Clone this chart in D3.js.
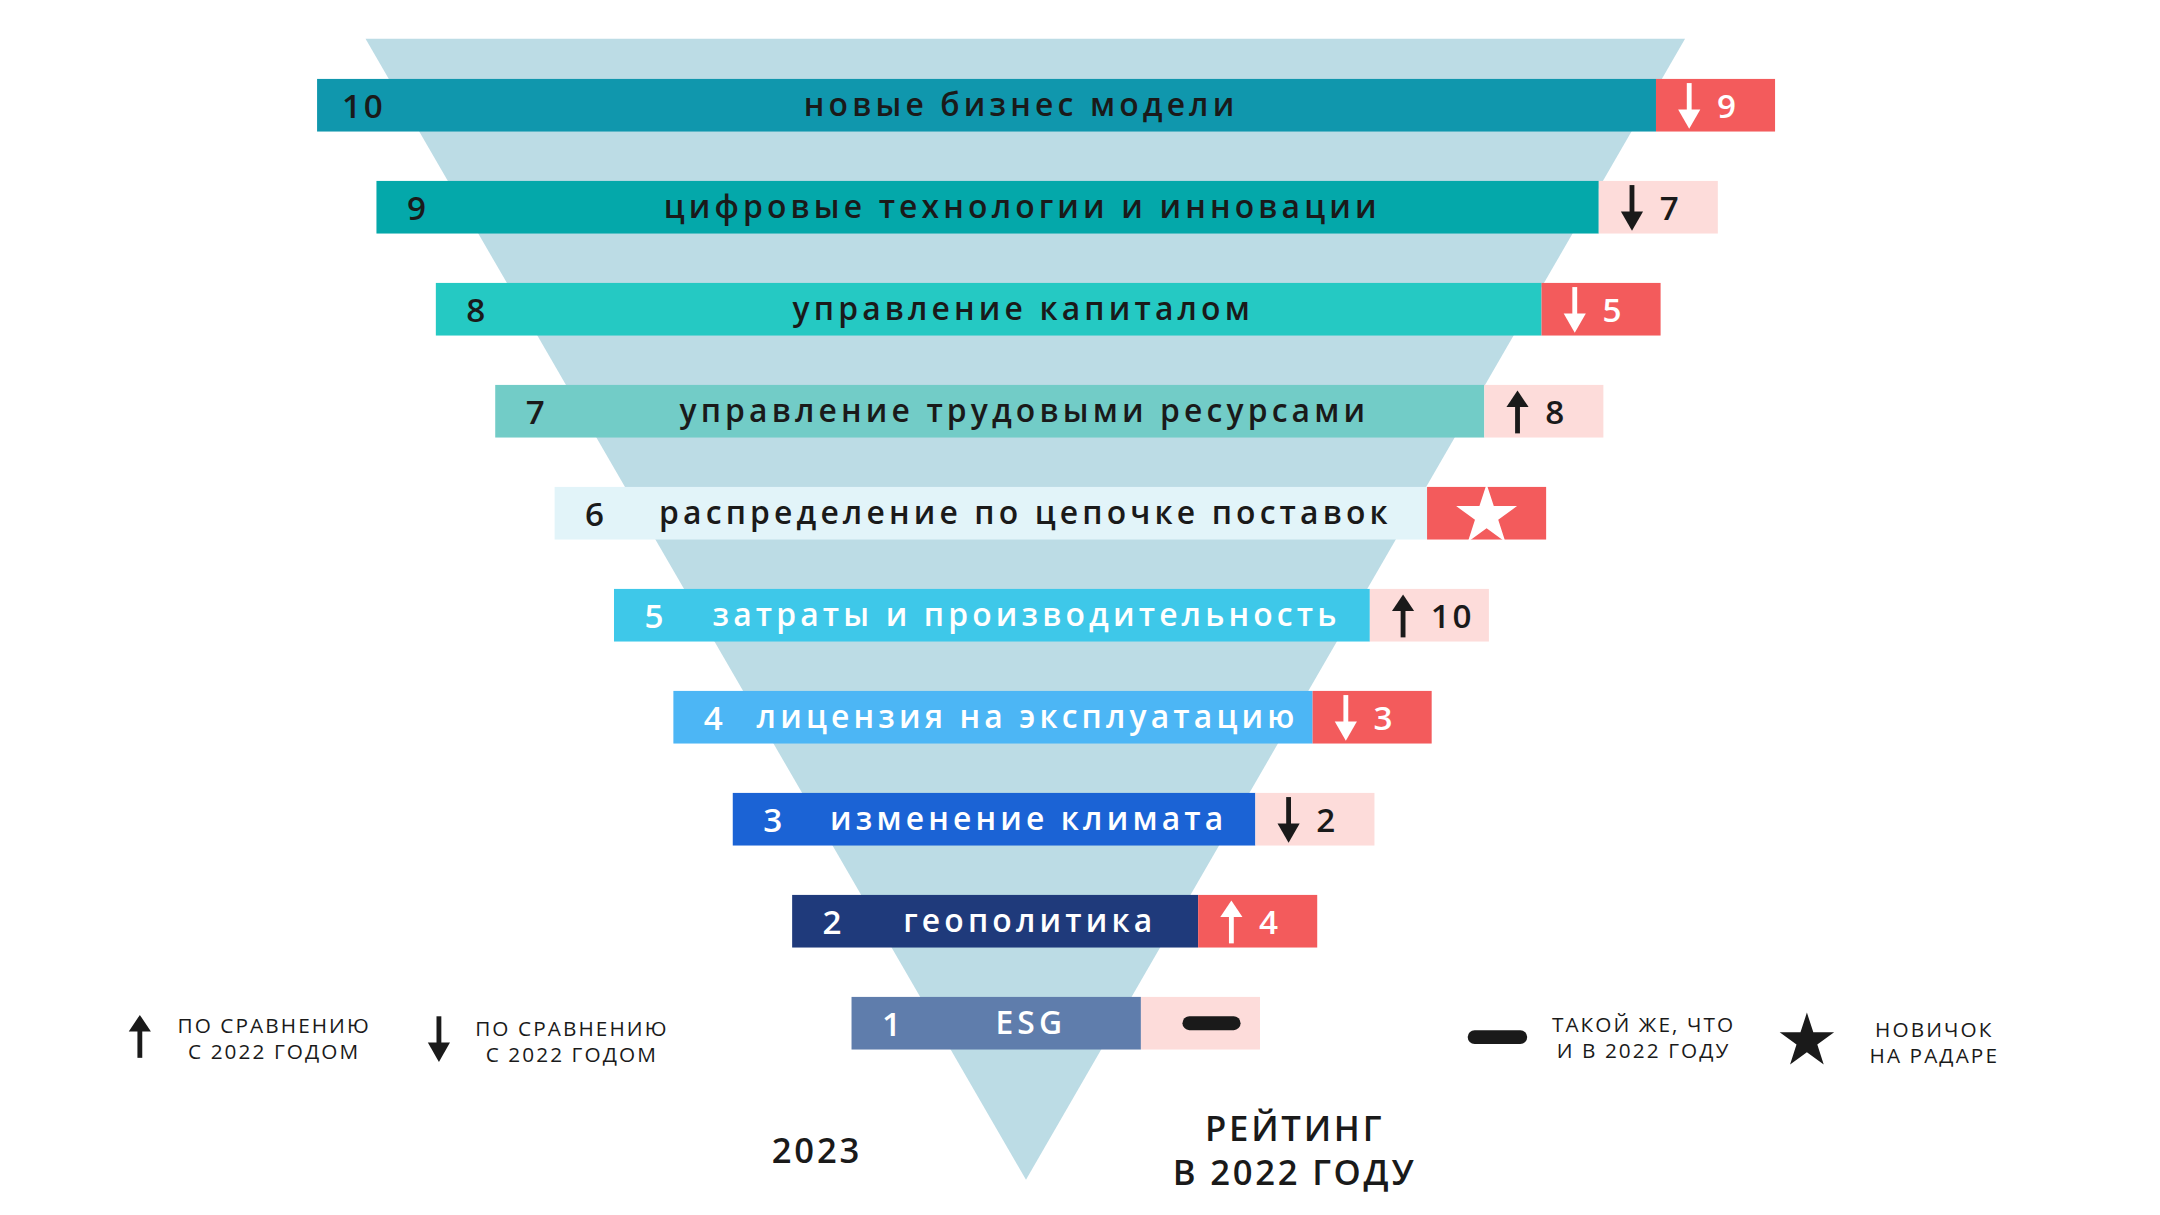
<!DOCTYPE html><html><head><meta charset="utf-8"><script src="https://cdn.jsdelivr.net/npm/d3@7"></script>
<style>body{margin:0;background:#fff}svg{display:block}text{font-family:"Open Sans",sans-serif}</style></head><body>
<svg id="c" width="2160" height="1215"></svg>
<script>
const ranks2023 = [10,9,8,7,6,5,4,3,2,1];
const labels = ["новые бизнес модели","цифровые технологии и инновации","управление капиталом","управление трудовыми ресурсами","распределение по цепочке поставок","затраты и производительность","лицензия на эксплуатацию","изменение климата","геополитика","ESG"];
const ranks2022 = ["9","7","5","8","new","10","3","2","4","same"];
const change = ["down","down","down","up","new","up","down","down","up","same"];
const barColors = ["#1097ad","#04a8aa","#25c9c3","#72ccc7","#e2f4f9","#3ec8e9","#4cb6f5","#1b63d5","#1f3a7b","#5f7dac"];
const textColors = ["#1a1a1a","#1a1a1a","#1a1a1a","#1a1a1a","#1a1a1a","#ffffff","#ffffff","#ffffff","#ffffff","#ffffff"];
const badgeColors = ["#f35b5c","#fddcda","#f35b5c","#fddcda","#f35b5c","#fddcda","#f35b5c","#fddcda","#f35b5c","#fddcda"];

const svg = d3.select("#c");
const g = svg.append("g").attr("transform","scale(1.3846)");
const y = d3.scaleLinear().domain([10,1]).range([76,739]);
const xl = d3.scaleLinear().domain([1,10]).range([615,229]);
const xr = d3.scaleLinear().domain([1,10]).range([824,1196]);
const bw = 86, bh = 38;

g.append("path").attr("d","M264,28L1217,28L741,852Z").attr("fill","#bcdce5");

const rows = g.selectAll("g.row").data(ranks2023).join("g");
rows.append("rect").attr("x",r=>xl(r)).attr("y",r=>y(r)-bh/2).attr("width",r=>xr(r)-xl(r)).attr("height",bh).attr("fill",(r,i)=>barColors[i]);
rows.append("rect").attr("x",r=>xr(r)).attr("y",r=>y(r)-bh/2).attr("width",bw).attr("height",bh).attr("fill",(r,i)=>badgeColors[i]);
rows.append("text").attr("x",r=>xl(r)+(r==10?18:22)).attr("y",r=>y(r)+9).attr("font-size",24).attr("font-weight",600).attr("letter-spacing",2)
  .attr("fill",(r,i)=>textColors[i]).text(r=>r);
rows.append("text").attr("x",r=>(xl(r)+50+xr(r))/2).attr("y",r=>y(r)+8).attr("text-anchor","middle").attr("font-size",23).attr("font-weight",600).attr("letter-spacing",3)
  .attr("fill",(r,i)=>textColors[i]).text((r,i)=>labels[i]);

function arrow(sel,x,yc,dir,col){
  const d = dir=="up"?-1:1, len=32;
  sel.append("line").attr("x1",x).attr("x2",x).attr("y1",yc-d*len/2).attr("y2",yc+d*(len/2-8)).attr("stroke",col).attr("stroke-width",3.5);
  sel.append("path").attr("d",`M${x-8},${yc+d*(len/2-13)}L${x+8},${yc+d*(len/2-13)}L${x},${yc+d*len/2+1}Z`).attr("fill",col);
}
const star = d3.symbol().type(d3.symbolStar);
rows.each(function(r,i){
  const s=d3.select(this), x0=xr(r), yc=y(r);
  const light = badgeColors[i]=="#fddcda"; const col = light?"#1a1a1a":"#ffffff";
  if(change[i]=="up"||change[i]=="down"){
    arrow(s,x0+24,yc,change[i],col);
    s.append("text").attr("x",x0+44).attr("y",yc+9).attr("font-size",24).attr("font-weight",600).attr("letter-spacing",2).attr("fill",col).text(ranks2022[i]);
  } else if(change[i]=="new"){
    s.append("path").attr("d",star.size(600)()).attr("transform",`translate(${x0+bw/2},${yc+2})`).attr("fill","#fff");
  } else {
    s.append("rect").attr("x",x0+30).attr("y",yc-5).attr("width",42).attr("height",10).attr("rx",5).attr("fill","#1a1a1a");
  }
});

// legend
const L = g.append("g");
arrow(L,101,748,"up","#1a1a1a");
arrow(L,317,750,"down","#1a1a1a");
function lt(x,y1,a,b){L.append("text").attr("x",x).attr("y",y1).attr("text-anchor","middle").attr("font-size",15).attr("font-weight",500).attr("letter-spacing",1.5).attr("fill","#1a1a1a")
  .selectAll("tspan").data([a,b]).join("tspan").attr("x",x).attr("dy",(d,k)=>k?19:0).text(d=>d);}
lt(198,746,"ПО СРАВНЕНИЮ","С 2022 ГОДОМ");
lt(413,748,"ПО СРАВНЕНИЮ","С 2022 ГОДОМ");
L.append("rect").attr("x",1060).attr("y",744).attr("width",43).attr("height",10).attr("rx",5).attr("fill","#1a1a1a");
lt(1187,745,"ТАКОЙ ЖЕ, ЧТО","И В 2022 ГОДУ");
L.append("path").attr("d",star.size(480)()).attr("transform","translate(1305,752)").attr("fill","#1a1a1a");
lt(1397,749,"НОВИЧОК","НА РАДАРЕ");
g.append("text").attr("x",590).attr("y",840).attr("text-anchor","middle").attr("font-size",25).attr("font-weight",600).attr("letter-spacing",2).attr("fill","#1a1a1a").text("2023");
g.append("text").attr("x",935).attr("y",824).attr("text-anchor","middle").attr("font-size",25).attr("font-weight",600).attr("letter-spacing",2).attr("fill","#1a1a1a")
 .selectAll("tspan").data(["РЕЙТИНГ","В 2022 ГОДУ"]).join("tspan").attr("x",935).attr("dy",(d,k)=>k?32:0).text(d=>d);
</script></body></html>
